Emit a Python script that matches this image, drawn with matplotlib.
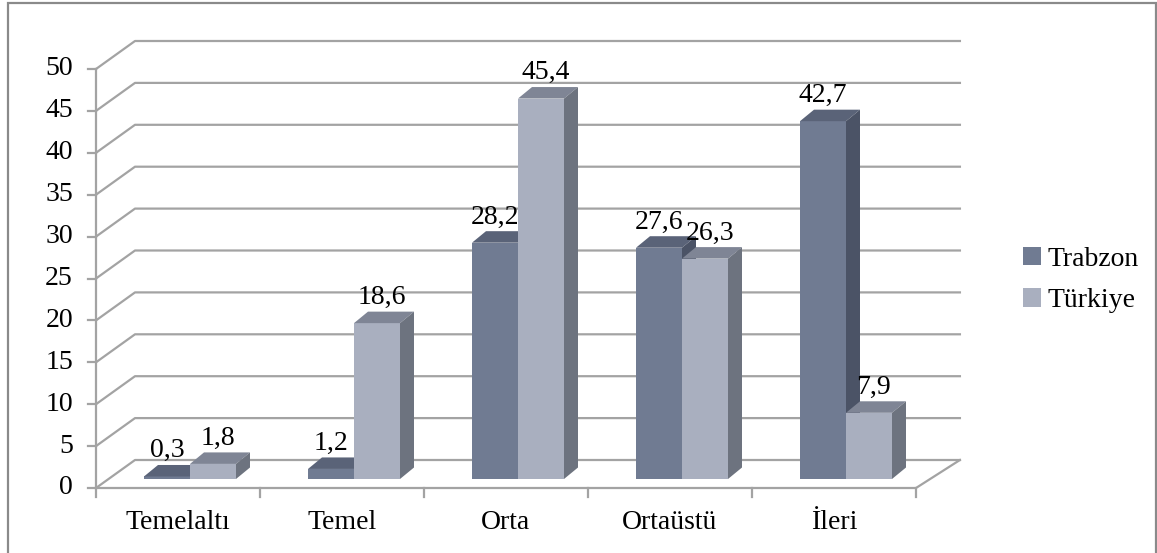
import matplotlib.pyplot as plt
from matplotlib.patches import Polygon, Patch, Rectangle

categories = ["Temelaltı", "Temel", "Orta", "Ortaüstü", "İleri"]
trabzon = [0.3, 1.2, 28.2, 27.6, 42.7]
turkiye = [1.8, 18.6, 45.4, 26.3, 7.9]
labels_tr = ["0,3", "1,2", "28,2", "27,6", "42,7"]
labels_tk = ["1,8", "18,6", "45,4", "26,3", "7,9"]
yticks = list(range(0, 55, 5))

plt.rcParams['font.family'] = ['Liberation Serif', 'DejaVu Serif']
FS = 20

# pixel scales used to fake the excel 3d look
CW = 164.0   # px per category
YS = 8.38    # px per unit
DX, DY = 39 / CW, 28 / YS        # wall depth
BX, BY = 12 / CW, 9 / YS         # bar front offset
TX, TY = 14 / CW, 11.5 / YS      # bar depth
BW = 46 / CW

grid_c = '#a3a3a3'
cols = {
    'tr': ('#707b92', '#5a6378', '#4b5366'),
    'tk': ('#a9afbf', '#7f8595', '#6d737f'),
}

fig = plt.figure(figsize=(11.57, 5.53), dpi=100)
ax = fig.add_axes([0, 0, 1, 1])
ax.set_xlim(-0.5 - 96 / CW, -0.5 + (1157 - 96) / CW)
ax.set_ylim((488 - 553) / YS, 488 / YS)
ax.axis('off')

# walls / gridlines
for v in yticks:
    ax.plot([-0.5, -0.5 + DX, 4.5 + DX + 0.03], [v, v + DY, v + DY], color=grid_c, lw=1.6, zorder=1)
    ax.plot([-0.5 - 8 / CW, -0.5], [v, v], color=grid_c, lw=1.6, zorder=1)
    ax.text(-0.5 - 23 / CW, v, str(v), ha='right', va='center', fontsize=FS)
ax.plot([-0.5, -0.5], [0, 50], color=grid_c, lw=1.6, zorder=1)
ax.plot([-0.5, 4.5, 4.5 + DX + 0.03], [0, 0, DY], color=grid_c, lw=1.6, zorder=1)
for i in range(len(categories) + 1):
    ax.plot([i - 0.5, i - 0.5], [0, -9 / YS], color=grid_c, lw=1.6, zorder=1)
for i, c in enumerate(categories):
    ax.text(i, -4.1, c, ha='center', va='center', fontsize=FS)


def bar3d(x0, h, key):
    front, top, side = cols[key]
    y0 = BY
    x1 = x0 + BW
    ax.add_patch(Polygon([(x0, y0), (x1, y0), (x1, y0 + h), (x0, y0 + h)], closed=True,
                         fc=front, ec='none', zorder=3))
    ax.add_patch(Polygon([(x0, y0 + h), (x1, y0 + h), (x1 + TX, y0 + h + TY), (x0 + TX, y0 + h + TY)],
                         closed=True, fc=top, ec='none', zorder=3))
    ax.add_patch(Polygon([(x1, y0), (x1 + TX, y0 + TY), (x1 + TX, y0 + h + TY), (x1, y0 + h)],
                         closed=True, fc=side, ec='none', zorder=3))


for i in range(len(categories)):
    bar3d(i + BX - BW, trabzon[i], 'tr')
    bar3d(i + BX, turkiye[i], 'tk')
for i in range(len(categories)):
    ax.text(i + BX - BW / 2, trabzon[i] + BY + TY + 0.2, labels_tr[i], ha='center', va='bottom',
            fontsize=FS, zorder=5)
    ax.text(i + BX + BW / 2 + 0.03, turkiye[i] + BY + TY + 0.2, labels_tk[i], ha='center', va='bottom',
            fontsize=FS, zorder=5)

handles = [Patch(fc=cols['tr'][0], ec='none'), Patch(fc=cols['tk'][0], ec='none')]
fig.legend(handles, ['Trabzon', 'Türkiye'], loc='center left', bbox_to_anchor=(998 / 1157, 1 - 280 / 553),
           frameon=False, fontsize=FS, handlelength=0.65, handleheight=0.65, handletextpad=0.25,
           labelspacing=0.6)

fig.add_artist(Rectangle((8 / 1157, -0.02), (1156 - 8) / 1157, 1 - 3 / 553 + 0.02,
                         transform=fig.transFigure, fill=False, ec='#8a8a8a', lw=1.6))

fig.savefig('out.png', dpi=100)
